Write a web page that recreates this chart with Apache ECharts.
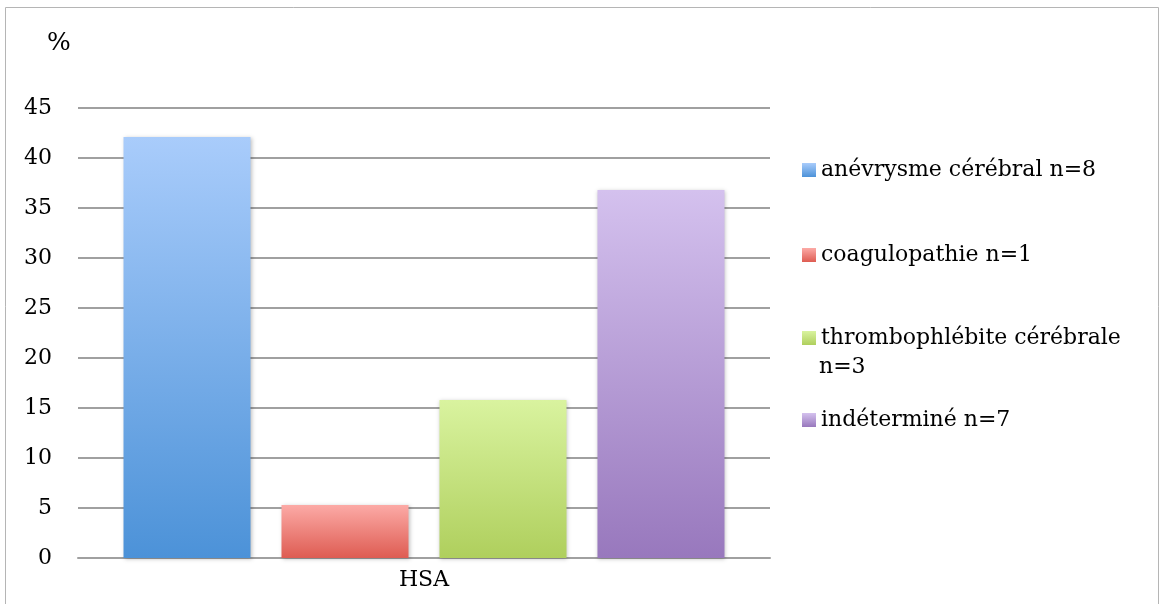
<!DOCTYPE html>
<html><head><meta charset="utf-8">
<script src="https://cdn.jsdelivr.net/npm/echarts@6/dist/echarts.min.js"></script>
<style>html,body{margin:0;padding:0;background:#fff}#c{width:1161px;height:604px}</style>
</head><body><div id="c"></div>
<script>
const categories = ['HSA'];
const seriesNames = ['anévrysme cérébral n=8', 'coagulopathie n=1', 'thrombophlébite cérébrale n=3', 'indéterminé n=7'];
const legendLabels = ['anévrysme cérébral n=8', 'coagulopathie n=1', 'thrombophlébite cérébrale', 'indéterminé n=7'];
const legendExtraLine = 'n=3';
const values = [42.1, 5.3, 15.8, 36.8];
const yTicks = [0, 5, 10, 15, 20, 25, 30, 35, 40, 45];

const gradients = [
  ['#a9ccfb', '#4c92d8'],
  ['#fcaaa6', '#de5c52'],
  ['#d9f39f', '#afcf5d'],
  ['#d4c1ee', '#9878bd']
];
const FONT = '"DejaVu Serif", "Liberation Serif", serif';
const FS = 22;
const chart = echarts.init(document.getElementById('c'));
const legendTops = [154, 239, 322, 404];
const series = seriesNames.map((n, i) => ({
  name: n, type: 'bar', data: [values[i]],
  barWidth: 127, barGap: '24.4%',
  itemStyle: {
    color: new echarts.graphic.LinearGradient(0, 0, 0, 1, [
      {offset: 0, color: gradients[i][0]}, {offset: 1, color: gradients[i][1]}]),
    shadowColor: 'rgba(0,0,0,0.25)', shadowBlur: 4, shadowOffsetX: 1, shadowOffsetY: 1
  }
}));
chart.setOption({
  animation: false,
  textStyle: {fontFamily: FONT},
  title: {text: '%', left: 42, top: 26, textStyle: {fontFamily: FONT, fontSize: 25, fontWeight: 'normal', color: '#000'}},
  graphic: [
    {type: 'rect', shape: {x: 5.5, y: 7.5, width: 1153, height: 640}, style: {fill: 'none', stroke: '#b5b5b5', lineWidth: 1}, silent: true},
    {type: 'text', left: 819, top: 356, style: {text: legendExtraLine, fontFamily: FONT, fontSize: FS, fill: '#000'}, silent: true}
  ],
  legend: seriesNames.map((n, i) => ({
    data: [n], left: 797, top: legendTops[i], orient: 'vertical',
    itemWidth: 14, itemHeight: 14, itemGap: 7,
    icon: 'rect',
    formatter: () => legendLabels[i],
    textStyle: {fontFamily: FONT, fontSize: FS, color: '#000'},
    selectedMode: false
  })),
  grid: {left: 78, right: 391, top: 108, bottom: 46, containLabel: false},
  xAxis: {type: 'category', data: categories,
    axisLine: {show: true, lineStyle: {color: '#a0a0a0', width: 2}},
    axisTick: {show: false},
    axisLabel: {fontFamily: FONT, fontSize: FS, color: '#000', margin: 11}},
  yAxis: {type: 'value', min: 0, max: 45, interval: 5,
    axisLine: {show: false}, axisTick: {show: false},
    axisLabel: {fontFamily: FONT, fontSize: FS, color: '#000', margin: 26,
      formatter: v => yTicks.includes(v) ? String(v) : ''},
    splitLine: {lineStyle: {color: '#a0a0a0', width: 2}}},
  series: series
});
</script></body></html>
